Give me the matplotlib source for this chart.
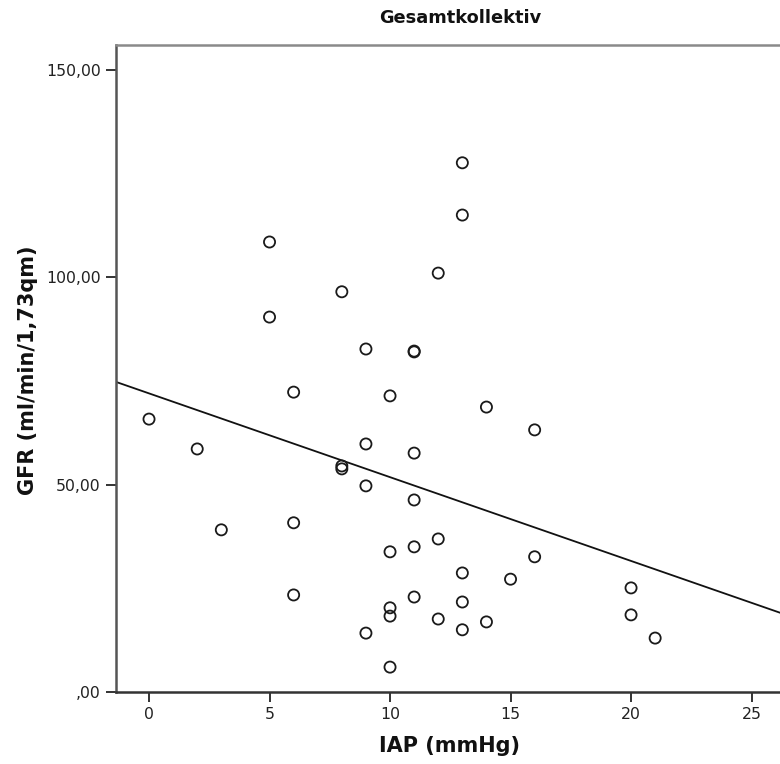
import numpy as np
import matplotlib
matplotlib.use("Agg")
import matplotlib.pyplot as plt
from matplotlib.ticker import FuncFormatter

# Intra-abdominal pressure (mmHg) and GFR (ml/min/1,73qm) per patient
iap = [0, 2, 3, 5, 5, 6, 6, 6, 8, 8, 8, 9, 9, 9, 9,
       10, 10, 10, 10, 10, 11, 11, 11, 11, 11, 11,
       12, 12, 12, 13, 13, 13, 13, 13, 14, 14, 15, 16, 16, 20, 20, 21]
gfr = [65.8, 58.6, 39.1, 108.5, 90.4, 72.3, 40.8, 23.4, 96.5, 54.5, 53.8,
       82.7, 59.8, 49.7, 14.2,
       71.4, 33.8, 20.3, 18.3, 6.0,
       82.2, 82.0, 57.6, 46.3, 35.0, 22.9,
       101.0, 36.9, 17.6,
       127.6, 115.0, 28.7, 21.7, 15.0,
       68.7, 16.9, 27.2, 63.2, 32.6, 25.1, 18.6, 13.0]

# Linear fit line (intercept, slope)
fit_intercept = 72.0
fit_slope = -2.02

x_ticks = [0, 5, 10, 15, 20, 25]
y_ticks = [0, 50, 100, 150]

title = "Gesamtkollektiv"
x_label = "IAP (mmHg)"
y_label = "GFR (ml/min/1,73qm)"

plt.rcParams['font.family'] = ['DejaVu Sans']

fig = plt.figure(figsize=(7.8, 7.64), dpi=100)
ax = fig.add_axes([116/780, 72/764, 664/780, 647/764])

xlo, xhi = -1.37, 26.18
ax.set_xlim(xlo, xhi)
ax.set_ylim(0, 156.0)

ax.scatter(iap, gfr, s=64, facecolors='none', edgecolors='#1a1a1a',
           linewidths=1.3, zorder=3)

xs = np.array([xlo, xhi])
ax.plot(xs, fit_intercept + fit_slope * xs, color='#111111', lw=1.3, zorder=2)

ax.set_xticks(x_ticks)
ax.set_yticks(y_ticks)


def de_fmt(v, pos):
    s = f"{v:.2f}".replace('.', ',')
    if s.startswith('0,'):
        s = s[1:]
    return s


ax.yaxis.set_major_formatter(FuncFormatter(de_fmt))
ax.tick_params(axis='both', direction='out', length=7, width=1.4,
               color='#333333', labelsize=11.3, labelcolor='#222222', pad=4)

ax.spines['right'].set_visible(False)
ax.spines['top'].set_color('#8a8a8a')
ax.spines['top'].set_linewidth(1.8)
ax.spines['left'].set_color('#555555')
ax.spines['left'].set_linewidth(1.8)
ax.spines['bottom'].set_color('#333333')
ax.spines['bottom'].set_linewidth(1.8)

fig.text(460/780, 1 - 18/764, title, ha='center', va='center',
         fontsize=12.8, fontweight='bold', color='#111111')
fig.text(450/780, 1 - 746/764, x_label, ha='center', va='center',
         fontsize=15, fontweight='bold', color='#111111')
fig.text(28/780, 1 - 370/764, y_label, ha='center', va='center',
         rotation=90, fontsize=15, fontweight='bold', color='#111111')

fig.savefig("out.png", dpi=100, facecolor='white')
